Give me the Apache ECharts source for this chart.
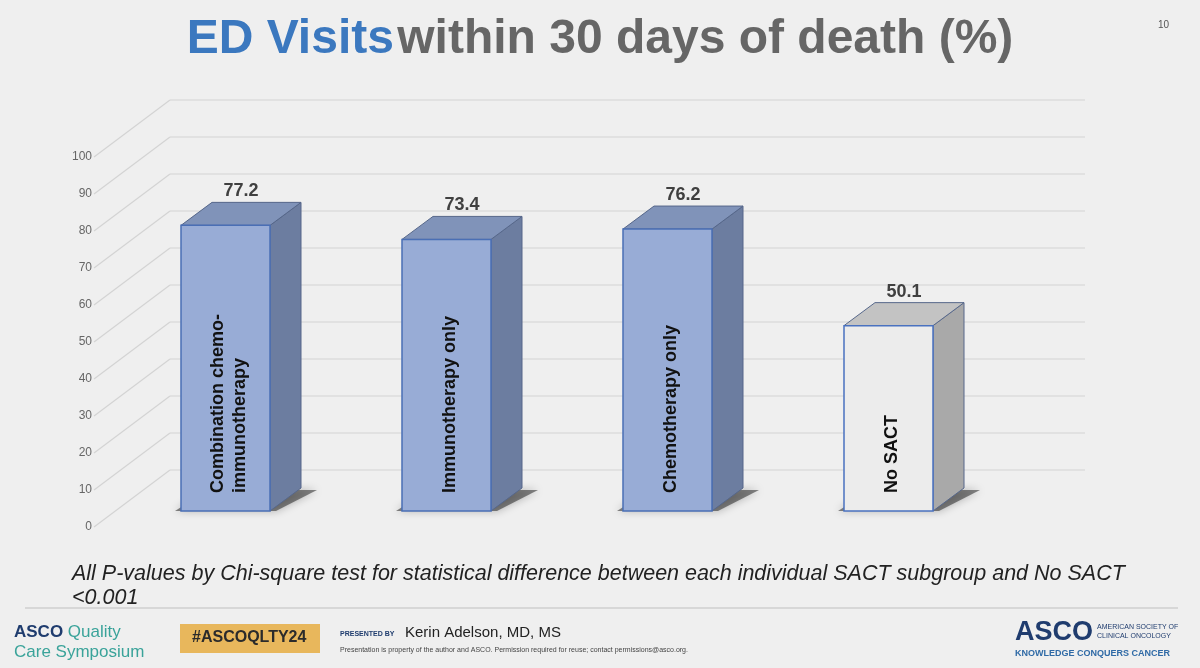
<!DOCTYPE html><html><head><meta charset="utf-8">
<script src="https://cdn.jsdelivr.net/npm/echarts@6/dist/echarts.min.js"></script>
<style>html,body{margin:0;background:#efefef}#c{width:1200px;height:668px}</style></head><body><div id="c"></div>
<script>
const categories = ['Combination chemo-\nimmunotherapy', 'Immunotherapy only', 'Chemotherapy only', 'No SACT'];
const values = [77.2, 73.4, 76.2, 50.1];
const ticks = [0,10,20,30,40,50,60,70,80,90,100];
const DX = 76, DY = -57;
const BX = 21, BY = -16;
const SX = 31, SY = -23;
const chart = echarts.init(document.getElementById('c'));
const ff = 'Liberation Sans, Arial, sans-serif';
chart.setOption({
  backgroundColor: '#efefef',
  animation: false,
  grid: {left: 94, top: 157, bottom: 141, right: 222},
  xAxis: {type: 'category', data: categories, axisLine:{show:false}, axisTick:{show:false}, axisLabel:{show:false}},
  yAxis: {type: 'value', min: 0, max: 100, interval: 10, splitLine:{show:false}, axisLine:{show:false}, axisTick:{show:false},
    axisLabel:{color:'#666', fontSize:12, fontFamily:ff, margin:2}},
  series: [
    {type:'custom', data: ticks.map(t=>[0,t]), silent:true, z:1,
     renderItem(params, api){
       const p = api.coord([0, api.value(1)]);
       const x0 = p[0] - api.size([1,0])[0]/2, y0 = p[1];
       return {type:'group', children:[
         {type:'line', shape:{x1:x0, y1:y0, x2:x0+DX, y2:y0+DY}, style:{stroke:'#d4d4d4', lineWidth:1.2}},
         {type:'line', shape:{x1:x0+DX, y1:y0+DY, x2:1085, y2:y0+DY}, style:{stroke:'#d4d4d4', lineWidth:1.2}}
       ]};
     }},
    {type:'custom', data: values.map((v,i)=>[i,v]), z:3,
     renderItem(params, api){
       const i = api.value(0), v = api.value(1);
       const top = api.coord([i, v]), base = api.coord([i, 0]);
       const w = 89;
       const xl = top[0] - w/2 + BX, xr = xl + w;
       const yt = top[1] + BY, yb = base[1] + BY;
       const grey = i === 3;
       const front = grey ? '#ececec' : '#98acd6';
       const side = grey ? '#a9a9a9' : '#6c7da0';
       const topc = grey ? '#c3c3c3' : '#8093b9';
       const stroke = grey ? '#4a72c0' : '#4a6fb5';
       return {type:'group', children:[
         {type:'polygon', shape:{points:[[xl-6,yb],[xl+SX-4,yb+SY+2],[xr+SX+16,yb+SY+2],[xr+6,yb]]}, style:{fill:'rgba(40,40,40,0.55)', shadowBlur:8, shadowColor:'rgba(0,0,0,0.5)'}, z2:0},
         {type:'polygon', shape:{points:[[xr,yt],[xr+SX,yt+SY],[xr+SX,yb+SY],[xr,yb]]}, style:{fill:side, stroke:'#56678a', lineWidth:1}, z2:1},
         {type:'polygon', shape:{points:[[xl,yt],[xl+SX,yt+SY],[xr+SX,yt+SY],[xr,yt]]}, style:{fill:topc, stroke:'#56678a', lineWidth:1}, z2:1},
         {type:'rect', shape:{x:xl, y:yt, width:w, height:yb-yt}, style:{fill:front, stroke:stroke, lineWidth:1.5}, z2:2},
         {type:'text', x:xl+w/2+4, y:yb-18, rotation:Math.PI/2,
          style:{text:categories[i], fill:'#111', font:'bold 18px '+ff, align:'left', verticalAlign:'middle', lineHeight:22}, z2:3},
         {type:'text', x:xl+w/2+SX/2, y:yt+SY-2, style:{text:v.toFixed(1), fill:'#404040', font:'bold 18px '+ff, align:'center', verticalAlign:'bottom'}, z2:3}
       ]};
     }}
  ],
  graphic: [
    {type:'text', left:'center', top:16, style:{rich:{a:{fill:'#3b78bf', font:'bold 48px '+ff}, b:{fill:'#666666', font:'bold 48px '+ff}}, text:'{a|ED Visits} {b|within 30 days of death (%)}'}},
    {type:'text', left:1158, top:20, style:{text:'10', fill:'#555', font:'10px '+ff}},
    {type:'text', left:72, top:562, style:{text:'All P-values by Chi-square test for statistical difference between each individual SACT subgroup and No SACT\n<0.001', fill:'#222', font:'italic 21.5px '+ff, lineHeight:24}},
    {type:'line', shape:{x1:25,y1:608,x2:1178,y2:608}, style:{stroke:'#cfcfcf', lineWidth:1.5}},
    {type:'text', left:14, top:622, style:{rich:{a:{fill:'#1f3c6e', font:'bold 17px '+ff}, b:{fill:'#3aa39a', font:'17px '+ff}}, text:'{a|ASCO}{b| Quality}\n{b|Care Symposium}', lineHeight:20}},
    {type:'rect', shape:{x:180,y:624,width:140,height:29}, style:{fill:'#e8b75c'}},
    {type:'text', left:192, top:630, style:{text:'#ASCOQLTY24', fill:'#2b2b2b', font:'bold 16px '+ff}},
    {type:'text', left:340, top:631, style:{text:'PRESENTED BY', fill:'#1f3c6e', font:'bold 7px '+ff}},
    {type:'text', left:405, top:625, style:{text:'Kerin Adelson, MD, MS', fill:'#222', font:'15px '+ff}},
    {type:'text', left:340, top:647, style:{text:'Presentation is property of the author and ASCO. Permission required for reuse; contact permissions@asco.org.', fill:'#444', font:'7px '+ff}},
    {type:'text', left:1015, top:619, style:{text:'ASCO', fill:'#1f3c6e', font:'bold 27px '+ff}},
    {type:'text', left:1097, top:623, style:{text:'AMERICAN SOCIETY OF\nCLINICAL ONCOLOGY', fill:'#1f3c6e', font:'7px '+ff, lineHeight:9}},
    {type:'text', left:1015, top:649, style:{text:'KNOWLEDGE CONQUERS CANCER', fill:'#2f6aa6', font:'bold 9px '+ff}}
  ]
});
</script></body></html>
